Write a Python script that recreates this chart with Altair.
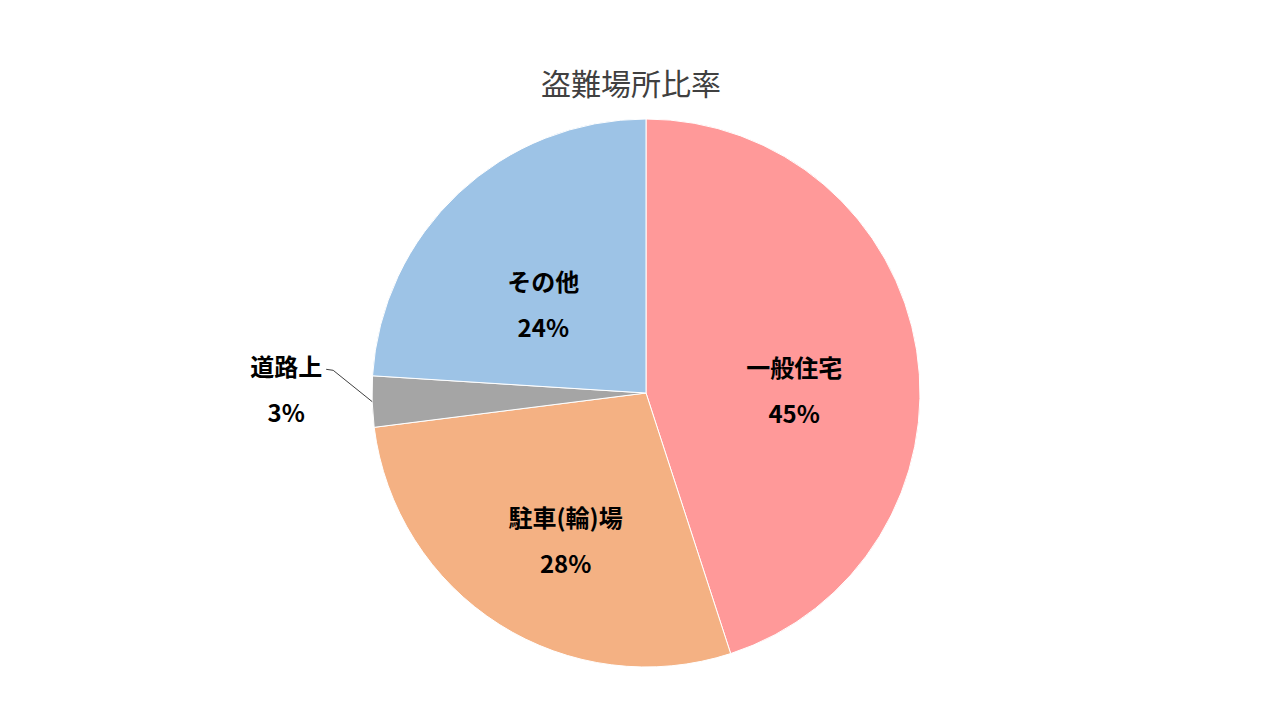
import altair as alt
import pandas as pd

categories = ["一般住宅", "駐車(輪)場", "道路上", "その他"]
values = [45, 28, 3, 24]
percent_labels = ["45%", "28%", "3%", "24%"]
colors = ["#FF9999", "#F4B183", "#A5A5A5", "#9DC3E6"]
order = [0, 1, 2, 3]

df = pd.DataFrame({"category": categories, "value": values,
                   "pct": percent_labels, "order": order})
df["label"] = df["category"] + "\n" + df["pct"]

CX, CY, R = 638, 275, 274
FONT = "Noto Sans CJK JP"

base = alt.Chart(df)
theta = alt.Theta("value:Q", stack=True)
color = alt.Color("category:N", scale=alt.Scale(domain=categories, range=colors), legend=None)
ordr = alt.Order("order:Q")

arcs = base.mark_arc(radius=R, stroke="white", strokeWidth=1).encode(
    theta=theta, color=color, order=ordr, x=alt.value(CX), y=alt.value(CY)
)

inner = base.transform_calculate(
    t="datum.value >= 5 ? datum.label : ''"
).mark_text(radius=150, font=FONT, fontSize=24, fontWeight="bold", lineBreak="\n",
            lineHeight=46, align="center", baseline="middle", color="black").encode(
    theta=theta, text="t:N", order=ordr, x=alt.value(CX), y=alt.value(CY)
)

outer = base.transform_calculate(
    t="datum.value < 5 ? datum.label : ''"
).mark_text(radius=360, dy=-35, font=FONT, fontSize=24, fontWeight="bold", lineBreak="\n",
            lineHeight=46, align="center", baseline="middle", color="black").encode(
    theta=theta, text="t:N", order=ordr, x=alt.value(CX), y=alt.value(CY)
)

geo = base.transform_window(
    cum="sum(value)", sort=[alt.SortField("order")], frame=[None, 0]
).transform_joinaggregate(
    total="sum(value)"
).transform_calculate(
    mid="(datum.cum - datum.value / 2) / datum.total * 2 * PI"
).transform_calculate(
    ex=f"{CX} + {R} * sin(datum.mid)",
    ey=f"{CY} - {R} * cos(datum.mid)",
    lx=f"{CX} + 360 * sin(datum.mid)",
    ly=f"{CY} - 360 * cos(datum.mid) - 35",
).transform_calculate(
    sx="datum.lx + 40", sy="datum.ly",
    bx="datum.lx + 47", by="datum.ly + 1",
).transform_filter("datum.value < 5")

leader1 = geo.mark_rule(color="#404040", strokeWidth=1).encode(
    x=alt.X("sx:Q", scale=None), y=alt.Y("sy:Q", scale=None),
    x2="bx:Q", y2="by:Q"
)
leader2 = geo.mark_rule(color="#404040", strokeWidth=1).encode(
    x=alt.X("bx:Q", scale=None), y=alt.Y("by:Q", scale=None),
    x2="ex:Q", y2="ey:Q"
)

chart = alt.layer(arcs, leader1, leader2, inner, outer).properties(
    width=1264, height=594, autosize="none",
    padding={"top": 110, "left": 0, "right": 0, "bottom": 0},
    title=alt.Title("盗難場所比率", font=FONT, fontSize=30, fontWeight="normal",
                    color="#404040", baseline="middle", offset=32, dx=-9, dy=64,
                    anchor="middle"),
).configure_view(stroke=None)

chart.save("out.html", embed_options={"renderer": "svg", "actions": False})
